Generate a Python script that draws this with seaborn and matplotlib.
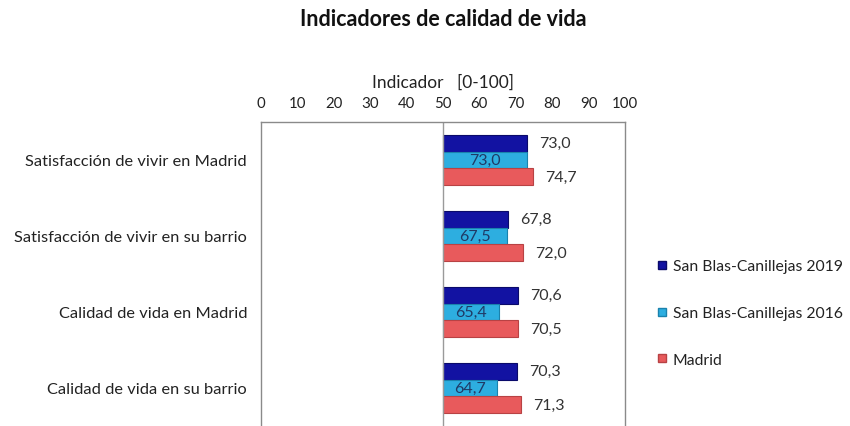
import matplotlib
matplotlib.use("Agg")
import matplotlib.pyplot as plt
from matplotlib.lines import Line2D
import seaborn as sns
import pandas as pd

categories = ["Satisfacción de vivir en Madrid",
              "Satisfacción de vivir en su barrio",
              "Calidad de vida en Madrid",
              "Calidad de vida en su barrio"]
series_names = ["San Blas-Canillejas 2019", "San Blas-Canillejas 2016", "Madrid"]
sb2019 = [73.0, 67.8, 70.6, 70.3]
sb2016 = [73.0, 67.5, 65.4, 64.7]
madrid = [74.7, 72.0, 70.5, 71.3]
x_ticks = [0, 10, 20, 30, 40, 50, 60, 70, 80, 90, 100]
baseline = 50

colors = ["#1212a2", "#2daee0", "#e85a5c"]
edge_colors = ["#0a0a6a", "#1a82ad", "#b84244"]

rows = []
for name, vals in zip(series_names, [sb2019, sb2016, madrid]):
    for c, v in zip(categories, vals):
        rows.append({"cat": c, "serie": name, "valor": v, "delta": v - baseline})
df = pd.DataFrame(rows)

sns.set_style("white")
plt.rcParams["font.family"] = ["Lato", "DejaVu Sans"]

fig = plt.figure(figsize=(8.5, 4.27), dpi=100)
ax = fig.add_axes([261 / 850, 0.0, (625 - 261) / 850, 1 - 123 / 427])

sns.barplot(data=df, y="cat", x="delta", hue="serie", hue_order=series_names,
            order=categories, palette=colors, width=0.66, orient="h",
            left=baseline, ax=ax, legend=False, linewidth=0.8, saturation=1)

for cont, ec in zip(ax.containers, edge_colors):
    for p in cont:
        p.set_edgecolor(ec)

lab = lambda vals: [f"{v:.1f}".replace(".", ",") for v in vals]
ax.bar_label(ax.containers[0], labels=lab(sb2019), padding=9, fontsize=11.5, color="#333333")
ax.bar_label(ax.containers[1], labels=lab(sb2016), label_type="center", fontsize=11.5, color="#1f3a66")
ax.bar_label(ax.containers[2], labels=lab(madrid), padding=9, fontsize=11.5, color="#333333")

ax.set_xlim(0, 100)
ax.set_ylim(3.5, -0.5)
ax.set_xticks(x_ticks)
ax.set_xticklabels([str(t) for t in x_ticks], fontsize=10.8, color="#222222")
ax.xaxis.tick_top()
ax.xaxis.set_label_position("top")
ax.set_xlabel("Indicador   [0-100]", fontsize=12.5, color="#222222", labelpad=6)
ax.set_ylabel("")
ax.tick_params(axis="x", length=0, pad=9)
ax.tick_params(axis="y", length=0, pad=10, labelsize=11.8, labelcolor="#222222")
ax.axvline(baseline, color="#9a9a9a", lw=1)

for s in ["top", "left", "right"]:
    ax.spines[s].set_color("#8a8a8a")
    ax.spines[s].set_linewidth(1)
ax.spines["bottom"].set_visible(False)

fig.suptitle("Indicadores de calidad de vida", x=443 / 850, y=1 - 19 / 427,
             va="center", fontsize=15.5, fontweight="bold", color="#111111")

handles = [Line2D([0], [0], marker="s", linestyle="", markersize=6,
                  markerfacecolor=c, markeredgecolor=ec)
           for c, ec in zip(colors, edge_colors)]
fig.legend(handles, series_names, loc="center left",
           bbox_to_anchor=(649 / 850, 1 - 314 / 427), frameon=False,
           fontsize=11.3, labelspacing=2.1, handlelength=0.7, handletextpad=0.3,
           labelcolor="#222222", borderpad=0)

fig.savefig("out.png", dpi=100)
